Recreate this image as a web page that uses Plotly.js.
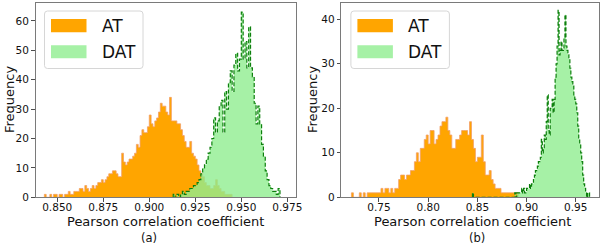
<!DOCTYPE html>
<html><head><meta charset="utf-8">
<script src="https://cdn.plot.ly/plotly-3.0.1.min.js"></script>
<style>html,body{margin:0;padding:0;background:#fff;} #chart{width:606px;height:244px;}</style>
</head><body><div id="chart"></div>
<script>
// ---------- data (histogram counts) ----------
const seriesNames = ['AT', 'DAT'];
const xTitle = 'Pearson correlation coefficient';
const yTitle = 'Frequency';
const panelLabels = ['(a)', '(b)'];

// panel (a)
const AT_a_start = 0.843, AT_a_bin = 0.001;
const AT_a = [1,0,0,1,0,1,1,0,1,1,
  0,1,1,2,1,1,2,2,2,3,
  3,2,4,3,2,3,4,3,4,5,
  5,6,5,6,7,8,8,9,9,8,
  7,7,15,12,11,12,13,13,14,15,
  18,17,21,23,22,22,24,28,25,24,
  26,27,29,32,31,31,29,28,34,26,
  26,26,25,25,23,21,19,17,17,19,
  15,14,13,11,9,8,7,5,4,4,
  3,3,4,6,4,3,2,2,1,1,
  1,1];
const DAT_a_start = 0.913, DAT_a_bin = 0.001;
const DAT_a = [1,0,1,0,1,2,1,2,2,3,
  3,4,4,5,6,8,10,11,13,15,
  17,20,27,22,26,31,33,22,36,30,
  39,43,36,45,49,43,47,63,47,53,
  44,58,44,41,32,25,31,25,18,14,
  9,6,4,3,2,2,1,3];

// panel (b)
const AT_b_start = 0.722, AT_b_bin = 0.002;
const AT_b = [1,0,0,0,1,0,1,0,1,1,
  1,1,1,1,1,2,1,2,2,1,
  2,1,2,2,4,5,5,4,5,5,
  6,6,8,10,8,11,11,13,14,12,
  15,15,12,13,14,16,17,17,18,15,
  14,11,11,13,13,14,15,15,15,14,
  17,13,11,8,9,9,14,8,5,5,
  6,4,3,2,2,2,1,1,1,1,
  1,1,1,1,1,0];
const DAT_b_start = 0.845, DAT_b_bin = 0.001;
const DAT_b = [1,
  0,0,0,0,0,0,0,0,0,0,0,0,0,0,0,0,0,0,0,0,0,
  0,0,0,0,0,0,0,0,0,0,0,0,0,0,0,0,0,0,0,0,0,
  1,0,1,1,1,1,1,2,1,2,
  1,1,2,2,2,3,2,3,3,4,
  5,6,6,7,8,8,9,13,10,11,
  14,13,17,23,15,14,20,20,22,19,
  22,27,30,34,42,32,33,35,33,33,
  36,41,34,33,32,31,29,27,26,25,
  23,22,21,19,16,13,12,10,8,5,
  3,2,1,0,1,1];

// ticks
const ticksA = [0.850, 0.875, 0.900, 0.925, 0.950, 0.975];
const tickLabelsA = ['0.850', '0.875', '0.900', '0.925', '0.950', '0.975'];
const ticksB = [0.75, 0.80, 0.85, 0.90, 0.95];
const tickLabelsB = ['0.75', '0.80', '0.85', '0.90', '0.95'];
const yTicksA = [0, 10, 20, 30, 40, 50, 60];
const yTicksB = [0, 10, 20, 30, 40];

// ---------- styling ----------
const FONT = 'DejaVu Sans, Liberation Sans, sans-serif';
const W = 606, H = 244;
const C_AT = '#FFA500', C_AT_EDGE = '#f3a067';
const C_DAT = 'rgba(144,238,144,0.8)', C_DAT_LEG = '#a6f1a6', C_DAT_EDGE = '#0d7f0d';

function stepXY(start, bin, vals) {
  const x = [start], y = [0];
  for (let i = 0; i < vals.length; i++) { x.push(start + i * bin); y.push(vals[i]); }
  x.push(start + vals.length * bin); y.push(0);
  return {x, y};
}

function histTraces(start, bin, vals, xa, ya, isDAT) {
  const s = stepXY(start, bin, vals);
  if (!isDAT) {
    return [{type: 'scatter', mode: 'lines', x: s.x, y: s.y, xaxis: xa, yaxis: ya,
      line: {shape: 'hv', color: C_AT_EDGE, width: 0.8}, fill: 'tozeroy', fillcolor: C_AT,
      hoverinfo: 'skip', showlegend: false}];
  }
  return [
    {type: 'scatter', mode: 'lines', x: s.x, y: s.y, xaxis: xa, yaxis: ya,
      line: {shape: 'hv', color: 'rgba(0,0,0,0)', width: 0}, fill: 'tozeroy', fillcolor: C_DAT,
      hoverinfo: 'skip', showlegend: false},
    {type: 'scatter', mode: 'lines', x: s.x, y: s.y, xaxis: xa, yaxis: ya,
      line: {shape: 'hv', color: C_DAT_EDGE, width: 1.2, dash: '4px,2px'},
      hoverinfo: 'skip', showlegend: false}
  ];
}

const data = [].concat(
  histTraces(AT_a_start, AT_a_bin, AT_a, 'x', 'y', false),
  histTraces(DAT_a_start, DAT_a_bin, DAT_a, 'x', 'y', true),
  histTraces(AT_b_start, AT_b_bin, AT_b, 'x2', 'y2', false),
  histTraces(DAT_b_start, DAT_b_bin, DAT_b, 'x2', 'y2', true)
);

const px = v => v / W;
const py = v => 1 - v / H;
const yDom = [py(197.3), py(3.3)];

function axisBase() {
  return {showline: true, mirror: true, linecolor: '#7a7a7a', linewidth: 1,
    ticks: 'outside', ticklen: 3.5, tickwidth: 0.8, tickcolor: '#222',
    showgrid: false, zeroline: false, fixedrange: true,
    tickfont: {family: FONT, size: 10.5, color: '#111'}};
}

const layout = {
  width: W, height: H, margin: {l: 0, r: 0, t: 0, b: 0},
  paper_bgcolor: '#fff', plot_bgcolor: '#fff', showlegend: false,
  xaxis: Object.assign(axisBase(), {domain: [px(35.5), px(296)], range: [0.8382, 0.9797],
    tickmode: 'array', tickvals: ticksA, ticktext: tickLabelsA, anchor: 'y', ticklabelstandoff: -3}),
  yaxis: Object.assign(axisBase(), {domain: yDom, range: [0, 66],
    tickmode: 'array', tickvals: yTicksA, anchor: 'x'}),
  xaxis2: Object.assign(axisBase(), {domain: [px(341.3), px(599)], range: [0.7117, 0.9736],
    tickmode: 'array', tickvals: ticksB, ticktext: tickLabelsB, anchor: 'y2', ticklabelstandoff: -3}),
  yaxis2: Object.assign(axisBase(), {domain: yDom, range: [0, 43.6],
    tickmode: 'array', tickvals: yTicksB, anchor: 'x2'}),
  shapes: [], annotations: []
};

function roundRect(x0, y0, x1, y1, r) {
  const X = v => px(v), Y = v => py(v);
  return `M ${X(x0 + r)},${Y(y0)} L ${X(x1 - r)},${Y(y0)} Q ${X(x1)},${Y(y0)} ${X(x1)},${Y(y0 + r)} ` +
    `L ${X(x1)},${Y(y1 - r)} Q ${X(x1)},${Y(y1)} ${X(x1 - r)},${Y(y1)} L ${X(x0 + r)},${Y(y1)} ` +
    `Q ${X(x0)},${Y(y1)} ${X(x0)},${Y(y1 - r)} L ${X(x0)},${Y(y0 + r)} Q ${X(x0)},${Y(y0)} ${X(x0 + r)},${Y(y0)} Z`;
}

function addLegend(dx) {
  layout.shapes.push({type: 'path', xref: 'paper', yref: 'paper', path: roundRect(44.5 + dx, 11, 143 + dx, 68.5, 3),
    fillcolor: 'rgba(255,255,255,0.8)', line: {color: '#d6d6d6', width: 1}});
  layout.shapes.push({type: 'rect', xref: 'paper', yref: 'paper', x0: px(51 + dx), x1: px(86.5 + dx),
    y0: py(32.3), y1: py(19), fillcolor: C_AT, line: {width: 0}});
  layout.shapes.push({type: 'rect', xref: 'paper', yref: 'paper', x0: px(51 + dx), x1: px(86.5 + dx),
    y0: py(58.3), y1: py(45.3), fillcolor: C_DAT_LEG, line: {width: 0}});
  layout.annotations.push({xref: 'paper', yref: 'paper', x: px(99.5 + dx), y: py(26.5), xanchor: 'left', yanchor: 'middle',
    text: seriesNames[0], showarrow: false, font: {family: FONT, size: 17, color: '#111'}});
  layout.annotations.push({xref: 'paper', yref: 'paper', x: px(99.5 + dx), y: py(51.7), xanchor: 'left', yanchor: 'middle',
    text: seriesNames[1], showarrow: false, font: {family: FONT, size: 17, color: '#111'}});
}
addLegend(0);
addLegend(306.4);

function addPanelText(xc, lblx, yx, label) {
  layout.annotations.push({xref: 'paper', yref: 'paper', x: px(xc), y: py(221.5), xanchor: 'center', yanchor: 'middle',
    text: xTitle, showarrow: false, font: {family: FONT, size: 13, color: '#111'}});
  layout.annotations.push({xref: 'paper', yref: 'paper', x: px(lblx), y: py(238), xanchor: 'center', yanchor: 'middle',
    text: label, showarrow: false, font: {family: FONT, size: 11.5, color: '#111'}});
  layout.annotations.push({xref: 'paper', yref: 'paper', x: px(yx), y: py(100), xanchor: 'center', yanchor: 'middle',
    text: yTitle, textangle: -90, showarrow: false, font: {family: FONT, size: 13, color: '#111'}});
}
addPanelText(165.7, 149, 9, panelLabels[0]);
addPanelText(472, 477, 312, panelLabels[1]);

Plotly.newPlot('chart', data, layout, {displayModeBar: false, staticPlot: true});
</script>
</body></html>
